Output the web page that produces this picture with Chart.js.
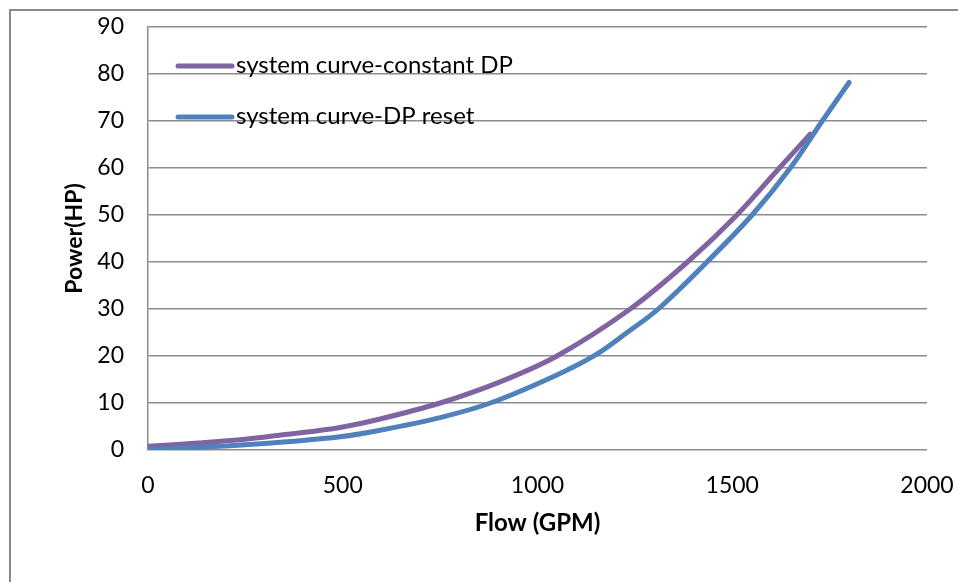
<!DOCTYPE html>
<html>
<head>
<meta charset="utf-8">
<script src="https://cdn.jsdelivr.net/npm/chart.js@4.4.0/dist/chart.umd.min.js"></script>
<style>
  html, body { margin: 0; padding: 0; background: #ffffff; overflow: hidden; }
  #wrap { position: relative; width: 958px; height: 582px; }
  #frame { position: absolute; left: 9px; top: 9px; width: 1200px; height: 1200px;
           border-left: 2px solid #898989; border-top: 2px solid #898989; }
  canvas { position: absolute; left: 0; top: 0; }
</style>
</head>
<body>
<div id="wrap">
  <div id="frame"></div>
  <canvas id="c" width="958" height="582"></canvas>
</div>
<script>
// ---- data ----
const seriesNames = ["system curve-constant DP", "system curve-DP reset"];
const flowConstDP  = [0, 130, 250, 365, 493, 596, 750, 904, 1050, 1238, 1385, 1512, 1621, 1700];
const powerConstDP = [0.8, 1.5, 2.3, 3.4, 4.8, 6.6, 10.0, 14.5, 20.0, 30.0, 40.0, 50.0, 60.0, 67.2];
const flowDPReset  = [0, 134, 250, 365, 493, 596, 750, 879, 1040, 1148, 1230, 1310, 1435, 1551, 1649, 1731, 1800];
const powerDPReset = [0.1, 0.6, 1.1, 1.8, 2.8, 4.2, 6.9, 10.0, 15.6, 20.2, 25.0, 30.0, 40.0, 50.0, 60.0, 70.0, 78.2];
const xTitle = "Flow (GPM)";
const yTitle = "Power(HP)";
const xMin = 0, xMax = 2000, xStep = 500;
const yMin = 0, yMax = 90, yStep = 10;

const colors = ["#8064A2", "#4F81BD"];
const FONT = "Lato, 'Open Sans', sans-serif";

function pts(xs, ys) { return xs.map((x, i) => ({ x: x, y: ys[i] })); }

const insideLegend = {
  id: 'insideLegend',
  afterDatasetsDraw(chart) {
    const ctx = chart.ctx;
    const items = chart.data.datasets;
    const x0 = 178, x1 = 232, tx = 236;
    const ys = [66, 117];
    ctx.save();
    items.forEach((ds, i) => {
      ctx.strokeStyle = ds.borderColor;
      ctx.lineWidth = 5;
      ctx.lineCap = 'round';
      ctx.beginPath();
      ctx.moveTo(x0, ys[i]);
      ctx.lineTo(x1, ys[i]);
      ctx.stroke();
      ctx.fillStyle = '#000';
      ctx.font = "24px " + FONT;
      ctx.textBaseline = 'middle';
      ctx.textAlign = 'left';
      ctx.fillText(ds.label, tx, ys[i] - 1);
    });
    ctx.restore();
  }
};

new Chart(document.getElementById('c'), {
  type: 'line',
  data: {
    datasets: [
      { label: seriesNames[0], data: pts(flowConstDP, powerConstDP), borderColor: colors[0],
        backgroundColor: colors[0], borderWidth: 5, pointRadius: 0, fill: false,
        tension: 0.35, borderCapStyle: 'round', order: 1 },
      { label: seriesNames[1], data: pts(flowDPReset, powerDPReset), borderColor: colors[1],
        backgroundColor: colors[1], borderWidth: 5, pointRadius: 0, fill: false,
        tension: 0.35, borderCapStyle: 'round', order: 0 }
    ]
  },
  options: {
    responsive: false,
    animation: false,
    devicePixelRatio: 1,
    layout: { padding: { left: 0, top: 27, right: 31, bottom: 0 } },
    plugins: { legend: { display: false }, tooltip: { enabled: false } },
    scales: {
      x: {
        type: 'linear', min: xMin, max: xMax,
        ticks: { stepSize: xStep, color: '#000', font: { family: FONT, size: 23 }, padding: 22, maxRotation: 0,
                 callback: (v) => String(v) },
        grid: { display: false, drawTicks: false },
        border: { display: false },
        title: { display: true, text: xTitle, color: '#000', font: { family: FONT, size: 24, weight: 'bold' }, padding: { top: 0, bottom: 44 } },
        afterFit(s) { s.height = 132; s.paddingLeft = 0; s.paddingRight = 0; }
      },
      y: {
        type: 'linear', min: yMin, max: yMax,
        ticks: { stepSize: yStep, color: '#000', font: { family: FONT, size: 23 }, padding: 24,
                 callback: (v) => String(v) },
        grid: { color: '#8c8c8c', lineWidth: 1.5, drawTicks: false },
        border: { display: true, color: '#8c8c8c', width: 1.5 },
        title: { display: true, text: yTitle, color: '#000', font: { family: FONT, size: 23, weight: 'bold' }, padding: { top: 61, bottom: 0 } },
        afterFit(s) { s.width = 148; s.paddingTop = 0; s.paddingBottom = 0; }
      }
    }
  },
  plugins: [insideLegend]
});
</script>
</body>
</html>
